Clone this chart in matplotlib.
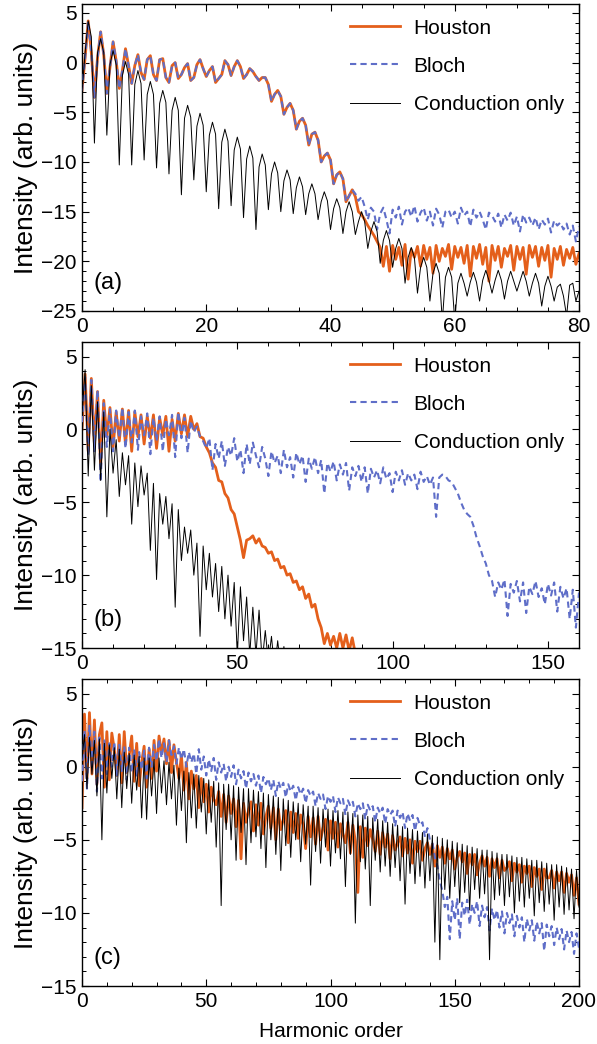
import numpy as np
import matplotlib.pyplot as plt
from matplotlib.ticker import MultipleLocator

plt.rcParams['font.family'] = ['Liberation Sans', 'DejaVu Sans']

# ---- panel (a): sampled every 0.5 harmonic, 0..80 ----
houston_a = [
    -2.8, 0.5, 4.2, 1.0, -3.5, 0.5, 3.1, 0.8,
    -3.1, -0.5, 2.1, 0.2, -2.6, -0.8, 1.4, -0.3,
    -2.1, -0.3, 0.8, -1.0, -1.7, 0.3, 0.7, -1.2,
    -1.8, 0.3, 0.4, -1.5, -2.0, -0.3, 0.0, -1.6,
    -1.2, -0.5, -0.1, -1.8, -1.5, -0.2, 0.3, -0.6,
    -1.4, -0.8, -0.4, -2.0, -1.6, -1.2, 0.2, -0.2,
    -1.3, -0.4, 0.2, -0.4, -1.6, -1.2, -0.6, -0.9,
    -1.4, -1.8, -1.5, -1.5, -2.2, -3.9, -3.2, -2.8,
    -3.4, -5.2, -4.5, -4.1, -4.8, -6.7, -5.9, -5.6,
    -6.3, -8.3, -7.2, -7.0, -7.8, -10.0, -9.4, -9.1,
    -9.8, -12.2, -11.3, -11.0, -11.7, -14.0, -13.4, -12.8,
    -13.5, -15.0, -15.3, -15.8, -16.4, -16.9, -17.4, -18.0,
    -18.6, -20.5, -18.5, -21.0, -18.4, -19.8, -18.6, -20.4,
    -18.3, -21.8, -18.8, -19.6, -18.5, -20.5, -18.4, -19.8,
    -18.6, -21.2, -18.4, -20.0, -18.7, -19.5, -18.3, -20.8,
    -18.5, -19.6, -18.6, -20.2, -18.4, -21.5, -18.5, -19.7,
    -18.3, -20.3, -18.6, -22.0, -18.4, -19.9, -18.5, -20.6,
    -18.7, -19.5, -18.4, -20.9, -18.5, -19.8, -18.6, -21.3,
    -18.4, -19.6, -18.5, -20.5, -18.6, -19.9, -18.4, -21.6,
    -18.7, -19.8, -18.5, -20.4, -18.8, -19.7, -18.6, -20.3,
    -19.2,
]
# Bloch follows Houston up to harmonic 43.5, then its own plateau from 44
bloch_a_tail = [
    -13.2, -13.9, -13.5, -14.5, -15.8, -14.6, -15.0, -16.8, -15.2, -14.6, -15.8, -17.2,
    -14.8, -15.6, -14.5, -16.3, -15.0, -14.6, -15.5, -14.4, -16.0, -15.1,
    -14.6, -15.9, -15.0, -16.4, -14.7, -15.3, -16.6, -15.0, -14.8, -15.6,
    -15.0, -16.2, -14.6, -15.4, -15.0, -16.5, -14.8, -15.6, -15.0, -15.8,
    -16.8, -15.1, -15.4, -16.0, -15.2, -16.6, -15.3, -15.9, -15.1, -16.4,
    -15.5, -17.0, -15.3, -16.1, -15.6, -16.4, -15.6, -16.8, -15.8, -16.3,
    -15.7, -17.1, -15.9, -16.4, -16.1, -16.8, -16.2, -17.3, -16.4, -18.0,
    -16.5,
]
conduction_a = [
    -3.0, 1.0, 4.2, 2.6, -8.1, 1.0, 2.4, 1.0,
    -7.3, -0.2, 1.2, -0.2, -10.3, -1.3, 0.1, -1.2,
    -10.3, -2.2, -0.8, -2.1, -9.8, -3.2, -1.9, -3.2,
    -10.6, -4.1, -2.8, -4.0, -11.2, -4.8, -3.5, -4.8,
    -13.3, -5.6, -4.3, -5.5, -11.8, -6.4, -5.1, -6.3,
    -13.0, -7.3, -6.0, -7.2, -14.7, -8.0, -6.7, -7.9,
    -14.4, -8.8, -7.5, -8.7, -15.6, -9.7, -8.4, -9.6,
    -16.8, -10.5, -9.2, -10.3, -14.8, -11.2, -10.0, -11.1,
    -15.0, -11.9, -10.8, -11.8, -15.2, -12.6, -11.5, -12.5,
    -15.3, -13.2, -12.2, -13.2, -15.8, -14.0, -13.0, -13.9,
    -16.8, -14.7, -13.7, -14.6, -17.2, -15.0, -14.0, -15.0,
    -17.3, -16.0, -15.0, -16.0, -18.7, -17.0, -16.0, -17.0,
    -20.2, -17.9, -16.9, -17.9, -20.6, -18.7, -17.7, -18.7,
    -22.2, -19.6, -18.6, -19.6, -23.2, -20.6, -19.6, -20.6,
    -24.0, -21.2, -20.2, -21.2, -26.0, -21.6, -20.6, -21.6,
    -26.0, -22.2, -21.2, -22.2, -23.5, -22.1, -21.1, -22.1,
    -24.0, -21.9, -20.9, -21.9, -23.2, -21.9, -20.9, -21.9,
    -23.8, -22.0, -21.0, -22.0, -23.0, -22.0, -21.0, -22.0,
    -23.5, -22.2, -21.2, -22.2, -24.5, -22.5, -21.5, -22.5,
    -24.0, -22.6, -22.3, -23.5, -25.5, -22.4, -22.2, -24.0,
    -23.0,
]

# ---- panel (b): one value per harmonic ----
houston_b = [
    0.0, 3.8, -1.5, 3.5, -1.0, 2.6, -2.5, 2.0, -0.5, 1.5,
    -1.2, 1.2, -0.8, 1.4, -1.0, 1.3, -1.5, 1.2, -0.5, 1.0,
    -1.0, 0.9, -0.6, 1.0, -1.3, 0.8, -0.4, 0.9, -1.5, 0.7,
    -0.8, 1.1, -0.3, 1.0, -0.5, 0.9, 0.0, 0.4, -0.5, -0.6,
    -1.2, -1.6, -2.3, -2.6, -3.5, -3.6, -4.4, -4.7, -5.5, -5.8,
    -6.7, -7.6, -8.8, -7.6, -7.5, -7.3, -7.8, -7.5, -8.0, -8.1,
    -8.5, -8.4, -9.0, -8.9, -9.5, -9.4, -10.0, -9.9, -10.5, -10.4,
    -11.0, -10.8, -11.6, -11.3, -12.2, -12.0, -13.0, -13.6, -14.7, -14.0,
    -14.8, -14.2, -15.0, -14.0, -15.0, -14.1, -15.2, -14.3, -15.4, -15.5,
    -16.0,
]
bloch_b = [
    0.5, 3.6, -1.8, 3.4, -1.5, 2.7, -3.6, 1.8, -1.2, 1.4,
    -1.5, 1.3, -0.6, 1.5, -1.3, 1.2, -0.9, 1.3, -1.4, 0.9,
    -0.4, 1.1, -1.7, 0.8, -0.8, 0.9, -1.5, 0.7, -0.4, 1.0,
    -1.9, 1.2, -0.6, 0.8, -1.6, 0.6, -0.2, 0.2, -0.5, -0.8,
    -1.3, -0.6, -2.8, -1.0, -2.0, -0.8, -2.5, -1.2, -1.8, -0.6,
    -2.2, -1.4, -3.0, -1.0, -2.4, -0.9, -1.8, -2.6, -1.2, -2.0,
    -3.2, -1.5, -2.3, -1.8, -3.0, -1.4, -2.6, -1.9, -3.3, -1.6,
    -2.4, -1.8, -3.6, -2.0, -2.7, -1.9, -3.0, -2.1, -4.4, -2.3,
    -2.9, -2.2, -3.5, -2.4, -3.1, -2.3, -4.2, -2.6, -3.2, -2.5,
    -3.6, -2.6, -4.4, -2.7, -3.3, -2.8, -3.7, -2.6, -3.4, -3.0,
    -4.3, -2.9, -3.5, -2.8, -3.8, -3.0, -3.5, -3.1, -4.1, -2.9,
    -3.6, -3.2, -3.8, -3.3, -6.0, -3.3, -3.1, -3.2, -3.5, -3.6,
    -4.0, -4.4, -5.0, -5.5, -5.8, -6.0, -6.6, -7.4, -8.0, -8.7,
    -9.2, -10.0, -10.4, -11.5, -10.5, -11.0, -10.3, -12.8, -10.6, -11.2,
    -10.4, -11.8, -10.5, -12.6, -10.8, -11.3, -10.4, -11.5, -10.9, -12.0,
    -10.6, -11.4, -10.5, -12.5, -10.8, -11.6, -10.9, -13.0, -11.0, -13.6,
    -11.2,
]
conduction_b = [
    1.0, 4.1, -3.2, 3.0, -2.8, 1.9, -3.5, 1.2, -6.0, 0.0,
    -3.0, -0.7, -4.6, -1.6, -3.8, -1.8, -6.5, -2.3, -5.3, -2.5,
    -4.5, -3.0, -8.3, -3.7, -10.3, -4.4, -6.5, -4.6, -7.5, -5.1,
    -12.2, -5.5, -9.0, -6.7, -8.5, -6.9, -10.0, -7.8, -14.2, -8.0,
    -11.0, -8.5, -11.5, -9.2, -12.5, -9.4, -13.0, -10.0, -13.5, -10.5,
    -15.5, -10.8, -14.5, -11.5, -15.5, -12.2, -15.5, -12.4, -16.0, -13.8,
    -16.0, -14.2, -16.5, -14.5, -16.5, -14.9, -17.0, -15.5, -17.0,
]

# ---- panel (c): one value per harmonic, 0..200 ----
houston_c = [
    -2.8, 3.6, -0.8, 3.7, -0.5, 3.2, -1.2, 2.2, 3.0, -1.4,
    2.4, -0.9, 2.3, 1.2, -0.6, 2.2, -1.1, 2.4, -0.4, 0.8,
    2.1, -1.0, 1.6, -1.3, 0.3, 1.4, -1.4, 1.2, -0.8, 1.8,
    -0.3, 2.1, 0.9, 1.9, 0.2, 1.8, -0.4, 1.5, 0.3, -0.8,
    0.8, -1.6, 0.3, -2.2, -0.3, -1.5, -0.6, -2.8, -0.8, -2.4,
    -1.2, -3.1, -1.4, -2.2, -2.6, -1.7, -3.4, -1.9, -3.8, -2.0,
    -3.2, -2.2, -4.1, -2.3, -6.3, -2.5, -3.8, -3.0, -2.4, -4.4,
    -2.6, -4.0, -2.5, -4.6, -3.4, -2.7, -4.2, -2.8, -5.0, -2.9,
    -4.3, -3.6, -3.0, -5.2, -3.1, -4.5, -3.2, -4.9, -3.3, -4.0,
    -5.6, -3.4, -4.8, -3.5, -5.3, -3.4, -5.0, -4.2, -3.6, -5.7,
    -3.7, -4.9, -3.8, -5.5, -3.9, -4.6, -5.2, -3.8, -5.9, -4.0,
    -5.1, -8.6, -4.1, -6.2, -4.2, -5.4, -4.3, -5.0, -5.8, -4.4,
    -6.0, -4.5, -5.5, -4.6, -6.3, -4.7, -5.7, -5.2, -4.8, -6.1,
    -4.9, -5.9, -5.0, -6.6, -5.1, -5.8, -5.1, -6.4, -5.6, -5.2,
    -6.0, -5.3, -6.8, -5.4, -6.2, -5.5, -6.6, -5.6, -6.3, -5.7,
    -7.0, -6.2, -5.8, -6.5, -5.9, -7.3, -6.0, -6.7, -6.0, -7.4,
    -6.6, -6.1, -6.8, -6.2, -7.5, -6.3, -6.9, -6.3, -7.6, -6.4,
    -7.1, -6.9, -6.5, -7.8, -6.6, -7.2, -6.7, -7.9, -6.8, -7.3,
    -6.8, -8.2, -6.9, -7.5, -7.0, -8.4, -7.0, -7.6, -7.6, -7.1,
    -8.3, -7.2, -7.8, -7.2, -8.6, -7.3, -7.9, -7.4, -8.8, -7.6,
    -9.4,
]
bloch_c = [
    -1.0, 2.5, -1.5, 2.8, -0.2, 2.4, -1.7, 2.0, -0.8, 1.8,
    -0.5, 1.6, 0.0, 1.7, -0.6, 1.5, -0.3, 1.4, -0.9, 1.3,
    -0.4, 1.2, -0.7, 1.0, -0.2, 1.1, -0.8, 1.3, 0.0, 1.5,
    0.4, 1.9, 0.6, 1.6, 0.3, 1.8, 0.8, 1.4, 0.2, 1.3,
    0.5, 1.2, 0.0, 1.0, 0.3, 0.9, -0.5, 1.2, -0.2, 0.7,
    -0.6, 0.5, -0.3, 0.6, -0.9, 0.3, -0.4, 0.2, -1.0, 0.0,
    -0.7, 0.1, -1.2, -0.2, -0.8, -0.3, -1.5, -0.4, -1.0, -0.5,
    -1.3, -0.6, -1.8, -0.7, -1.2, -0.8, -1.6, -0.9, -2.0, -1.0,
    -1.5, -1.1, -2.1, -1.2, -1.7, -1.3, -2.3, -1.4, -1.9, -1.5,
    -2.5, -1.6, -2.0, -1.7, -2.7, -1.8, -2.2, -1.9, -2.9, -2.0,
    -2.4, -2.0, -3.1, -2.1, -2.5, -2.2, -3.3, -2.3, -2.7, -2.4,
    -3.4, -2.5, -2.9, -2.5, -3.6, -2.6, -3.0, -2.7, -3.8, -2.8,
    -3.2, -2.8, -3.9, -2.9, -3.3, -3.0, -4.1, -3.0, -3.5, -3.1,
    -4.2, -3.2, -3.7, -3.3, -4.4, -3.5, -4.0, -3.8, -4.8, -4.2,
    -5.0, -5.2, -6.2, -6.8, -7.8, -8.5, -9.6, -8.9, -11.8, -9.2,
    -10.5, -9.0, -11.8, -9.3, -10.2, -9.1, -10.8, -9.4, -10.0, -9.2,
    -10.9, -9.5, -10.3, -9.6, -11.2, -9.7, -10.5, -9.8, -11.0, -9.9,
    -11.4, -10.0, -10.7, -10.1, -11.6, -10.2, -11.0, -10.3, -12.0, -10.4,
    -11.2, -10.5, -11.9, -10.6, -11.4, -10.7, -12.6, -10.8, -11.6, -10.9,
    -12.2, -11.0, -11.8, -11.1, -12.5, -11.2, -12.0, -11.3, -12.8, -11.4,
    -12.4,
]
conduction_c = [
    0.5, 2.2, -1.5, 2.0, -0.5, 1.8, -2.0, 1.9, -5.0, 1.6,
    -1.8, 1.5, -0.8, 1.3, -2.2, 1.2, -2.8, 1.0, -1.5, 0.9,
    -2.5, 0.8, -1.6, 0.7, -3.5, 0.6, -3.6, 0.6, -2.0, 0.5,
    -3.2, 0.6, -1.8, 0.4, -2.6, 0.3, -2.2, 0.1, -4.0, -0.1,
    -3.0, -0.3, -5.2, -0.4, -3.5, -0.5, -4.2, -0.6, -3.1, -0.8,
    -4.6, -0.9, -3.8, -1.0, -5.5, -1.1, -9.5, -1.2, -4.3, -1.2,
    -5.0, -1.3, -6.4, -1.4, -4.5, -1.5, -6.7, -1.5, -5.2, -1.6,
    -4.8, -1.7, -5.6, -1.8, -6.9, -1.9, -5.0, -2.0, -6.0, -2.1,
    -7.1, -2.2, -5.4, -2.3, -6.2, -2.4, -5.0, -2.5, -6.5, -2.6,
    -5.3, -2.7, -8.1, -2.7, -5.8, -2.8, -6.6, -2.9, -5.5, -2.9,
    -6.8, -3.0, -5.9, -3.0, -6.3, -3.1, -8.2, -3.1, -6.0, -3.2,
    -10.7, -3.3, -6.5, -3.3, -7.0, -3.4, -9.5, -3.5, -6.4, -3.6,
    -7.2, -3.7, -6.8, -3.8, -7.5, -3.9, -6.9, -4.0, -7.8, -4.1,
    -9.4, -4.2, -7.3, -4.3, -8.0, -4.4, -7.5, -4.5, -8.3, -4.6,
    -7.8, -4.7, -12.0, -4.8, -13.2, -4.9, -8.4, -5.0, -9.0, -5.1,
    -8.2, -5.2, -9.3, -5.3, -8.6, -5.4, -9.8, -5.5, -8.4, -5.6,
    -9.0, -5.7, -8.7, -5.7, -13.2, -5.8, -9.1, -5.9, -8.8, -6.0,
    -9.5, -6.0, -8.9, -6.1, -10.0, -6.2, -9.2, -6.2, -9.6, -6.3,
    -9.0, -6.4, -10.2, -6.4, -9.3, -6.5, -9.9, -6.6, -9.4, -6.7,
    -10.5, -6.7, -9.6, -6.8, -10.1, -6.9, -9.8, -7.0, -10.4, -7.1,
    -9.6,
]

labels = ['Houston', 'Bloch', 'Conduction only']
orange = '#e45f1b'
blue = '#5f6ec8'

fig = plt.figure(figsize=(5.97, 10.44), dpi=100)
W, H = 597.0, 1044.0


def panel(top, bottom, xmax, ymin, ymax, xmaj, xmin_, ymaj, letter,
          h, hstep, b, bstep, c, cstep):
    ax = fig.add_axes([82 / W, 1 - bottom / H, 497 / W, (bottom - top) / H])
    h = np.array(h)
    b = np.array(b)
    c = np.array(c)
    l1, = ax.plot(np.arange(len(h)) * hstep, h, color=orange, lw=2.0, zorder=2)
    l2, = ax.plot(np.arange(len(b)) * bstep, b, color=blue, lw=1.5,
                  dashes=(3, 2), zorder=3)
    l3, = ax.plot(np.arange(len(c)) * cstep, c, color='black', lw=0.7, zorder=4)
    ax.set_xlim(0, xmax)
    ax.set_ylim(ymin, ymax)
    ax.xaxis.set_major_locator(MultipleLocator(xmaj))
    ax.xaxis.set_minor_locator(MultipleLocator(xmin_))
    ax.yaxis.set_major_locator(MultipleLocator(ymaj))
    ax.yaxis.set_minor_locator(MultipleLocator(1))
    ax.tick_params(which='both', direction='in', top=True, right=True,
                   labelsize=15, pad=4)
    ax.tick_params(which='major', length=5, width=0.8)
    ax.tick_params(which='minor', length=2.7, width=0.7)
    for s in ax.spines.values():
        s.set_linewidth(1.0)
    ax.set_ylabel('Intensity (arb. units)', fontsize=19, labelpad=2)
    ax.text(0.024, 0.09, letter, transform=ax.transAxes, fontsize=17,
            va='center', ha='left')
    ax.legend([l1, l2, l3], labels, loc='upper left',
              bbox_to_anchor=(0.51, 1.0), frameon=False, fontsize=15,
              handlelength=2.4, handletextpad=0.65, labelspacing=0.92,
              borderaxespad=0.3)
    return ax


bloch_a = houston_a[:88] + bloch_a_tail

ax_a = panel(4, 311, 80, -25, 5.9, 20, 5, 5, '(a)',
             houston_a, 0.5, bloch_a, 0.5, conduction_a, 0.5)
ax_b = panel(342, 648, 160, -15, 6.0, 50, 10, 5, '(b)',
             houston_b, 1.0, bloch_b, 1.0, conduction_b, 1.0)
ax_c = panel(679, 986, 200, -15, 6.0, 50, 10, 5, '(c)',
             houston_c, 1.0, bloch_c, 1.0, conduction_c, 1.0)
ax_c.set_xlabel('Harmonic order', fontsize=15, labelpad=8)

fig.savefig('out.png', dpi=100)
